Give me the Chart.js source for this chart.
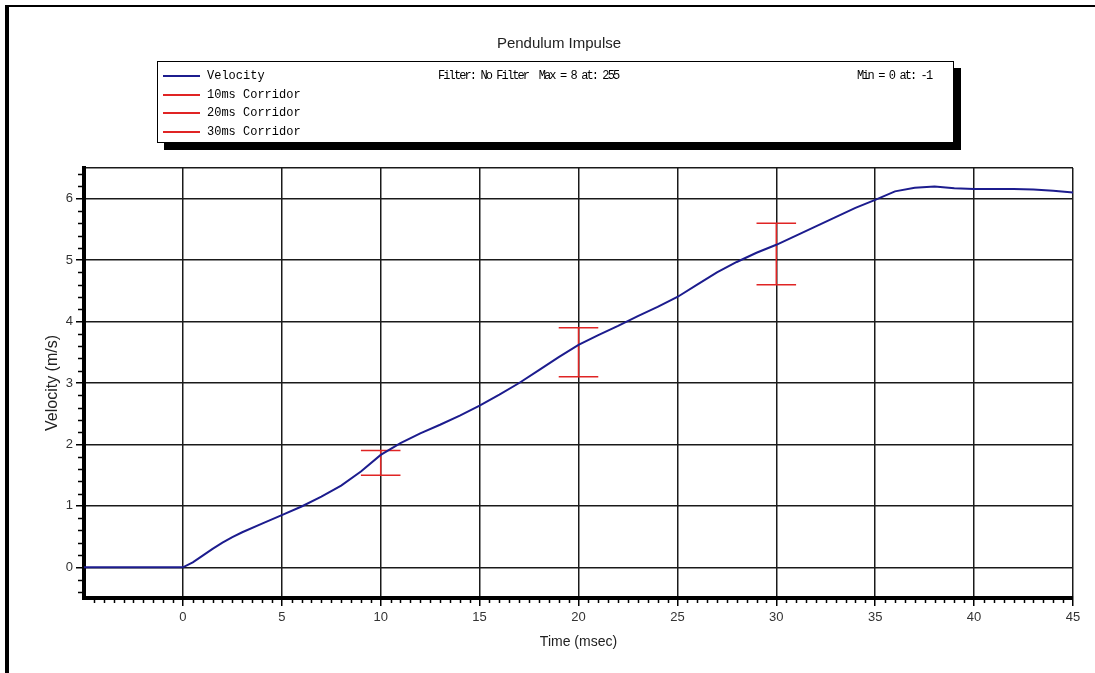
<!DOCTYPE html>
<html>
<head>
<meta charset="utf-8">
<title>Pendulum Impulse</title>
<script src="https://cdn.jsdelivr.net/npm/chart.js@4.4.1/dist/chart.umd.min.js"></script>
<style>
  html, body { margin: 0; padding: 0; background: #fff; }
  #wrap { position: relative; width: 1095px; height: 673px; overflow: hidden; }
  #frame { position: absolute; left: 5px; top: 5px; width: 1200px; height: 800px;
           border-left: 4px solid #000; border-top: 2px solid #000; }
  #title { position: absolute; left: 0; top: 34px; width: 1118px; text-align: center;
           font: 15px "Liberation Sans", Arial, sans-serif; color: #222; }
  #legend { position: absolute; left: 157px; top: 61px; width: 795px; height: 80px;
            border: 1px solid #000; box-shadow: 7px 7px 0 #000; background: #fff;
            font: 12px "Liberation Mono", monospace; color: #000; }
  .row { position: absolute; left: 0; width: 100%; height: 16px; }
  .swatch { position: absolute; left: 5px; top: 7px; width: 37px; height: 0; border-top: 2px solid; }
  .txt { position: absolute; top: 0; white-space: pre; line-height: 16px; }
  .tight { letter-spacing: -1.9px; }
  #chart { position: absolute; left: 0; top: 0; }
</style>
</head>
<body>
<div id="wrap">
  <div id="frame"></div>
  <canvas id="chart" width="1095" height="673"></canvas>
  <div id="title">Pendulum Impulse</div>
  <div id="legend"></div>
</div>
<script>
// velocity trace (m/s) against time (msec)
const timeMs = [-5, 0, 0.5, 1, 1.5, 2, 2.5, 3, 4, 5, 6, 7, 8, 9, 10, 11, 12, 13, 14, 15,
                16, 17, 18, 19, 20, 21, 22, 23, 24, 25, 26, 27, 28, 29, 30, 31, 32, 33, 34, 35,
                36, 37, 38, 39, 40, 41, 42, 43, 44, 45];
const velocity = [0, 0, 0.08, 0.19, 0.30, 0.40, 0.49, 0.57, 0.71, 0.85, 0.99, 1.15, 1.33, 1.56, 1.83, 2.02, 2.18, 2.32, 2.47, 2.63,
                  2.81, 3.00, 3.21, 3.42, 3.62, 3.78, 3.93, 4.09, 4.24, 4.40, 4.60, 4.80, 4.97, 5.12, 5.25, 5.40, 5.55, 5.70, 5.85, 5.98,
                  6.12, 6.18, 6.20, 6.17, 6.16, 6.16, 6.16, 6.15, 6.13, 6.10];

// corridors
const corridorNames = ['10ms Corridor', '20ms Corridor', '30ms Corridor'];
const corridorTime = [10, 20, 30];
const corridorLow = [1.5, 3.1, 4.6];
const corridorHigh = [1.9, 3.9, 5.6];
const capHalf = 1;

const xTickLabels = [0, 5, 10, 15, 20, 25, 30, 35, 40, 45];
const yTickLabels = [0, 1, 2, 3, 4, 5, 6];

const xMin = -5, xMax = 45, yMin = -0.5, yMax = 6.5;

const velColor = '#1c1c8e';
const corColor = '#e02424';

// legend box
const legend = document.getElementById('legend');
const rows = ['Velocity'].concat(corridorNames);
rows.forEach(function(name, i) {
    const row = document.createElement('div');
    row.className = 'row';
    row.style.top = Math.round(6 + i * 18.6) + 'px';
    row.innerHTML = '<div class="swatch" style="border-color:' + (i === 0 ? velColor : corColor) + '"></div>' +
                    '<div class="txt" style="left:49px">' + name + '</div>';
    if (i === 0) {
        row.innerHTML += '<div class="txt tight" style="left:280px">Filter: No Filter  Max = 8 at: 255</div>' +
                         '<div class="txt tight" style="left:699px">Min = 0 at: -1</div>';
    }
    legend.appendChild(row);
});

function corridorPoints(k) {
    const t = corridorTime[k], lo = corridorLow[k], hi = corridorHigh[k];
    return [
        {x: t - capHalf, y: hi}, {x: t + capHalf, y: hi}, {x: t, y: null},
        {x: t, y: hi}, {x: t, y: lo}, {x: t, y: null},
        {x: t - capHalf, y: lo}, {x: t + capHalf, y: lo}
    ];
}

const datasets = [{
    label: 'Velocity',
    data: timeMs.map(function(t, i) { return {x: t, y: velocity[i]}; }),
    borderColor: velColor,
    borderWidth: 2,
    pointRadius: 0,
    showLine: true,
    order: 0
}];
corridorNames.forEach(function(name, k) {
    datasets.push({
        label: name,
        data: corridorPoints(k),
        borderColor: corColor,
        borderWidth: 1.5,
        pointRadius: 0,
        showLine: true,
        spanGaps: false,
        order: 1
    });
});

// small ticks between the labelled ones
const minorTicks = {
    id: 'minorTicks',
    afterDraw: function(chart) {
        const c = chart.ctx, xs = chart.scales.x, ys = chart.scales.y;
        const a = chart.chartArea;
        c.save();
        c.strokeStyle = '#000';
        c.lineWidth = 1.5;
        c.beginPath();
        for (let v = xMin + 0.5; v < xMax; v += 0.5) {
            if (Math.abs(v / 5 - Math.round(v / 5)) < 1e-6) continue;
            const px = Math.round(xs.getPixelForValue(v)) + 0.5;
            c.moveTo(px, a.bottom);
            c.lineTo(px, a.bottom + 5);
        }
        for (let v = yMin + 0.1; v < yMax - 0.05; v += 0.2) {
            if (Math.abs(v - Math.round(v)) < 1e-6) continue;
            const py = Math.round(ys.getPixelForValue(v)) + 0.5;
            c.moveTo(a.left, py);
            c.lineTo(a.left - 6, py);
        }
        c.stroke();
        c.restore();
    }
};

function isLabelled(list, v) {
    return list.some(function(t) { return Math.abs(t - v) < 1e-9; });
}

new Chart(document.getElementById('chart'), {
    type: 'scatter',
    data: { datasets: datasets },
    options: {
        responsive: false,
        animation: false,
        layout: { padding: { top: 168, right: 22, left: 0, bottom: 0 } },
        plugins: { legend: { display: false }, tooltip: { enabled: false } },
        scales: {
            x: {
                type: 'linear',
                min: xMin, max: xMax,
                afterBuildTicks: function(scale) {
                    scale.ticks = [xMin].concat(xTickLabels).map(function(v) { return {value: v}; });
                },
                afterFit: function(scale) { scale.height = 75; },
                ticks: {
                    autoSkip: false, maxRotation: 0, padding: 4,
                    color: '#333',
                    font: { family: '"Liberation Sans", Arial, sans-serif', size: 13 },
                    callback: function(v) { return isLabelled(xTickLabels, v) ? String(v) : ''; }
                },
                grid: {
                    color: '#1a1a1a', lineWidth: 1.5, tickLength: 8,
                    tickColor: function(ctx) { return ctx.tick && ctx.tick.value === xMin ? 'rgba(0,0,0,0)' : '#000'; }
                },
                border: { color: '#000', width: 4 },
                title: {
                    display: true, text: 'Time (msec)', color: '#222',
                    font: { family: '"Liberation Sans", Arial, sans-serif', size: 14 },
                    padding: { top: 0, bottom: 22 }
                }
            },
            y: {
                type: 'linear',
                min: yMin, max: yMax,
                afterBuildTicks: function(scale) {
                    scale.ticks = [yMin].concat(yTickLabels, [yMax]).map(function(v) { return {value: v}; });
                },
                afterFit: function(scale) { scale.width = 84; },
                ticks: {
                    autoSkip: false, padding: 3,
                    color: '#333',
                    font: { family: '"Liberation Sans", Arial, sans-serif', size: 13 },
                    callback: function(v) { return isLabelled(yTickLabels, v) ? String(v) : ''; }
                },
                grid: {
                    color: '#1a1a1a', lineWidth: 1.5, tickLength: 8,
                    tickColor: function(ctx) {
                        return ctx.tick && isLabelled(yTickLabels, ctx.tick.value) ? '#000' : 'rgba(0,0,0,0)';
                    }
                },
                border: { color: '#000', width: 4 },
                title: {
                    display: true, text: 'Velocity (m/s)', color: '#222',
                    font: { family: '"Liberation Sans", Arial, sans-serif', size: 16 },
                    padding: { top: 43, bottom: 0 }
                }
            }
        }
    },
    plugins: [minorTicks]
});
</script>
</body>
</html>
